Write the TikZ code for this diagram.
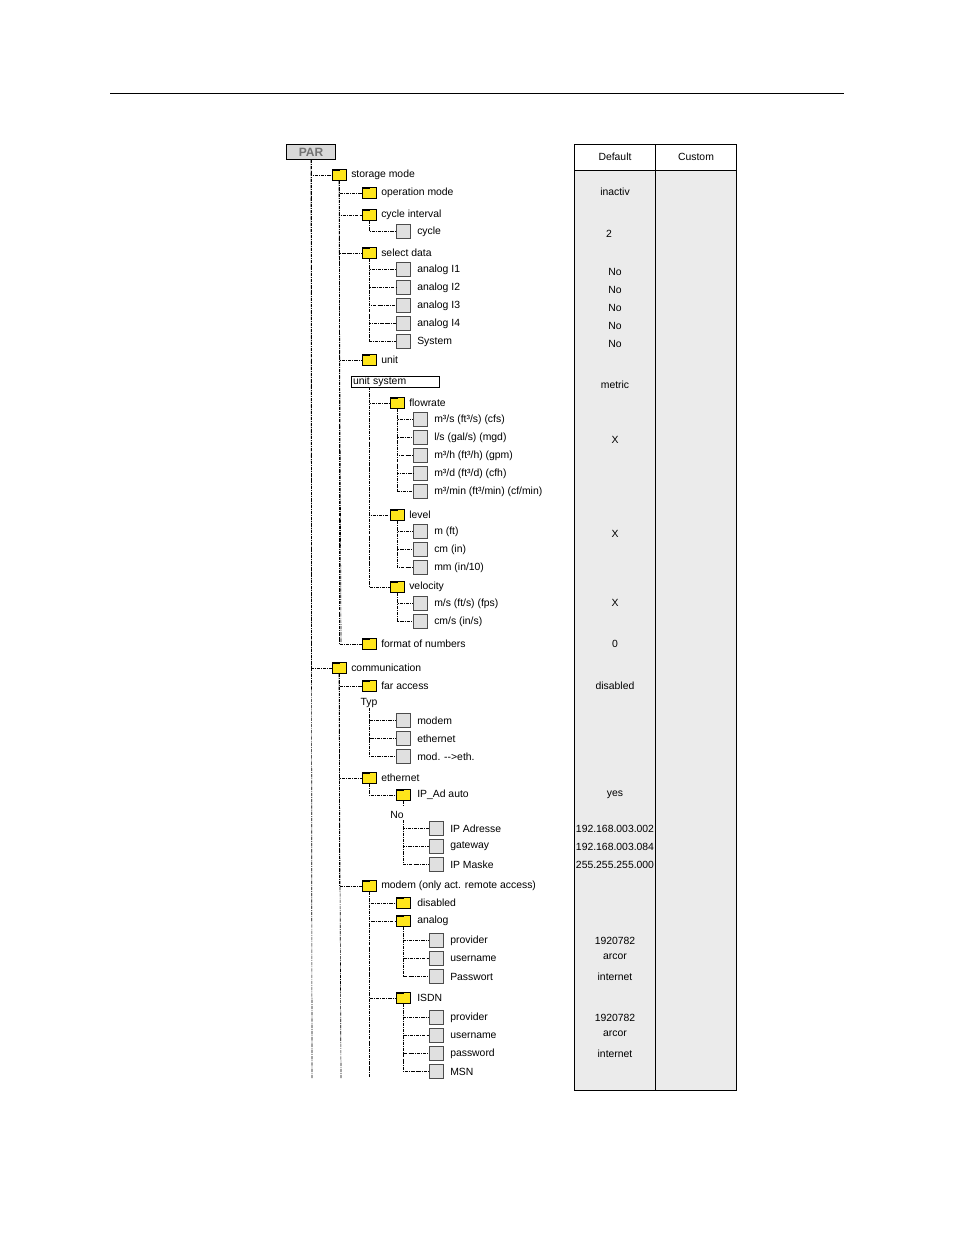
\documentclass[tikz,border=0pt]{standalone}
\usepackage{fontspec}
\setmainfont{Liberation Sans}
\begin{document}
\begin{tikzpicture}[x=0.75pt,y=-0.75pt,
 con/.style={dash pattern=on 2.5pt off 0.8pt on 0.6pt off 0.8pt,line width=0.5pt},
 folder/.style={draw,line width=0.5pt,fill=yellow!85!orange!90,minimum width=10.5pt,minimum height=8.5pt,inner sep=0pt},
 leaf/.style={draw=black!70,line width=0.5pt,fill=black!12,minimum width=10.5pt,minimum height=10.5pt,inner sep=0pt},
 lbl/.style={anchor=west,inner sep=0pt,font=\fontsize{7.8}{9}\selectfont},
 val/.style={inner sep=0pt,font=\fontsize{7.8}{9}\selectfont}]
\newcommand\fld[5][12]{\node[folder] (#2) at (#3,#4+1) {};
 \fill[black] (#3-7,#4-5) rectangle (#3+1,#4-3);
 \node[lbl] (#2t) at (#3+#1,#4+0.5) {#5};}
\newcommand\lf[4]{\node[leaf] (#1) at (#2,#3) {};
 \node[lbl] (#1t) at (#2+14,#3+0.5) {#4};}
\useasboundingbox (0,0) rectangle (954,1235);
\draw[line width=0.6pt] (110,93) -- (844,93);
% table
\fill[black!8] (574,170) rectangle (736,1090);
\draw[line width=0.6pt] (574,144) rectangle (736,1090) (655,144) -- (655,1090) (574,170) -- (736,170);
\node[val] at (615,157) {Default};
\node[val] at (696,157) {Custom};
% PAR
\node[draw,line width=0.8pt,fill=black!15,minimum width=37pt,minimum height=11pt,inner sep=0pt,font=\bfseries\fontsize{9}{10}\selectfont,text=black!55] (par) at (311,152) {PAR};
\fld{sm}{339}{174}{storage mode}
\fld{om}{369}{192}{operation mode}
\fld{ci}{369}{214}{cycle interval}
\lf{cy}{403}{231}{cycle}
\fld{sd}{369}{252}{select data}
\lf{a1}{403}{269}{analog I1}
\lf{a2}{403}{287}{analog I2}
\lf{a3}{403}{305}{analog I3}
\lf{a4}{403}{323}{analog I4}
\lf{sy}{403}{341}{System}
\fld{un}{369}{359}{unit}
\node[draw,line width=0.5pt,minimum width=66pt,minimum height=8.5pt,inner sep=0pt,text width=63pt,font=\fontsize{7.8}{9}\selectfont] (us) at (395,382) {unit system};
\coordinate (usc) at (369,387);
\fld{fr}{397}{402}{flowrate}
\lf{f1}{420}{419}{m³/s (ft³/s) (cfs)}
\lf{f2}{420}{437}{l/s (gal/s) (mgd)}
\lf{f3}{420}{455}{m³/h (ft³/h) (gpm)}
\lf{f4}{420}{473}{m³/d (ft³/d) (cfh)}
\lf{f5}{420}{491}{m³/min (ft³/min) (cf/min)}
\fld{lv}{397}{514}{level}
\lf{l1}{420}{531}{m (ft)}
\lf{l2}{420}{549}{cm (in)}
\lf{l3}{420}{567}{mm (in/10)}
\fld{ve}{397}{586}{velocity}
\lf{v1}{420}{603}{m/s (ft/s) (fps)}
\lf{v2}{420}{621}{cm/s (in/s)}
\fld{fn}{369}{643}{format of numbers}
\fld{cm}{339}{667}{communication}
\fld{fa}{369}{685}{far access}
\node[val] (typ) at (369,703) {Typ};
\lf{md}{403}{720}{modem}
\lf{et}{403}{738}{ethernet}
\lf{me}{403}{756}{mod. {-}{-}>eth.}
\fld{eh}{369}{777}{ethernet}
\fld[14]{ip}{403}{794}{IP\_Ad auto}
\node[val] (no) at (397,815) {No};
\coordinate (noc) at (403,820);
\lf{i1}{436}{828}{IP Adresse}
\lf{i2}{436}{846}{gateway}
\lf{i3}{436}{864}{IP Maske}
\fld{mo}{369}{885}{modem (only act. remote access)}
\fld[14]{di}{403}{902}{disabled}
\fld[14]{an}{403}{920}{analog}
\lf{p1}{436}{940}{provider}
\lf{u1}{436}{958}{username}
\lf{w1}{436}{976}{Passwort}
\fld[14]{is}{403}{997}{ISDN}
\lf{p2}{436}{1017}{provider}
\lf{u2}{436}{1035}{username}
\lf{w2}{436}{1053}{password}
\lf{ms}{436}{1071}{MSN}
% connectors
\draw[con] (par.south) -- (312,1078);
\foreach \c in {sm,cm} \draw[con] (par.south) |- (\c.west);
\draw[con] (sm.south) -- (341,643);
\foreach \c in {om,ci,sd,un,fn} \draw[con] (sm.south) |- (\c.west);
\draw[con] (ci.south) |- (cy.west);
\foreach \c in {a1,a2,a3,a4,sy} \draw[con] (sd.south) |- (\c.west);
\draw[con] (usc) -- (369,586);
\foreach \c in {fr,lv,ve} \draw[con] (usc) |- (\c.west);
\foreach \c in {f1,f2,f3,f4,f5} \draw[con] (fr.south) |- (\c.west);
\foreach \c in {l1,l2,l3} \draw[con] (lv.south) |- (\c.west);
\foreach \c in {v1,v2} \draw[con] (ve.south) |- (\c.west);
\draw[con] (cm.south) -- (341,1078);
\foreach \c in {fa,eh,mo} \draw[con] (cm.south) |- (\c.west);
\foreach \c in {md,et,me} \draw[con] (typ.south) |- (\c.west);
\draw[con] (eh.south) |- (ip.west);
\draw[con] (ip.south) -- (403,806);
\foreach \c in {i1,i2,i3} \draw[con] (noc) |- (\c.west);
\draw[con] (mo.south) -- (369,1078);
\foreach \c in {di,an,is} \draw[con] (mo.south) |- (\c.west);
\foreach \c in {p1,u1,w1} \draw[con] (an.south) |- (\c.west);
\foreach \c in {p2,u2,w2,ms} \draw[con] (is.south) |- (\c.west);
% values
\foreach \y/\t in {192/inactiv,272/No,290/No,308/No,326/No,344/No,385/metric,440/X,534/X,603/X,644/0,686/disabled,795/yes,829/192.168.003.002,847/192.168.003.084,865/255.255.255.000,941/1920782,957/arcor,977/internet,1018/1920782,1034/arcor,1054/internet}
  \node[val] at (615,\y) {\t};
\node[val] at (609,234) {2};
\end{tikzpicture}
\end{document}
